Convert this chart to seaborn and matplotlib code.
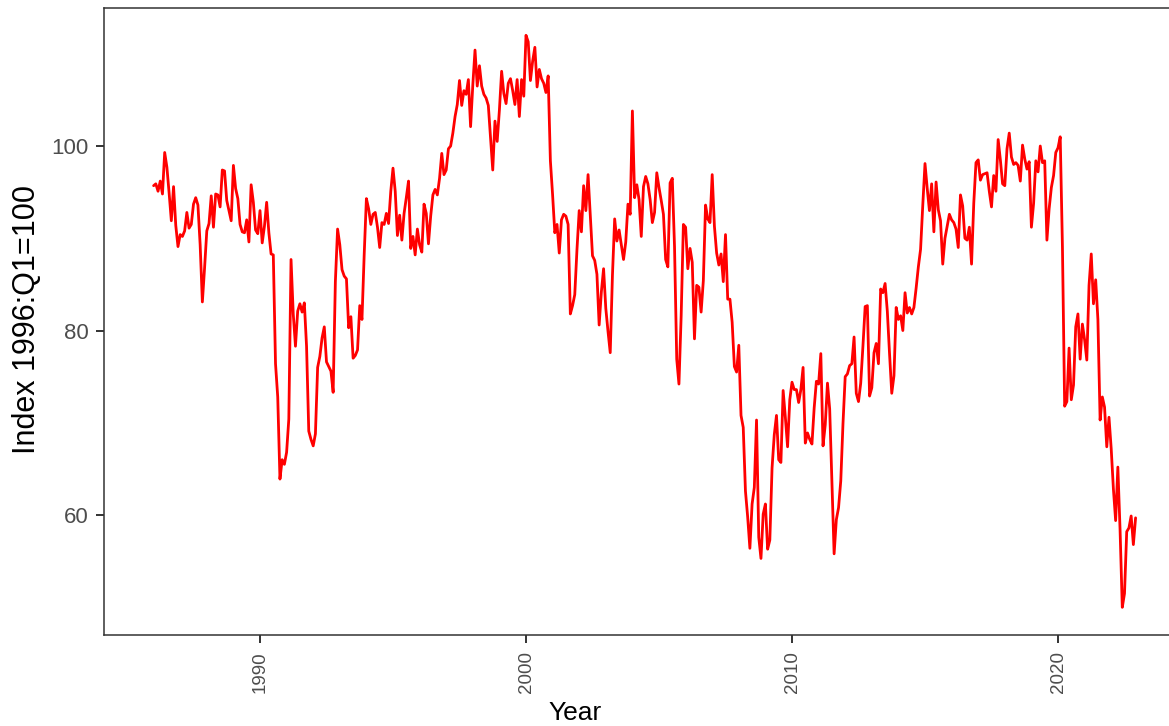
import numpy as np
import pandas as pd
import matplotlib
matplotlib.use("Agg")
import matplotlib.pyplot as plt
import seaborn as sns

# monthly index values, Jan 1986 - Dec 2022
vals_1986_1990 = [
    95.7, 95.9, 95.1, 96.2, 94.8, 99.3, 97.7, 94.9, 91.9, 95.6, 91.4, 89.1,
    90.4, 90.2, 90.8, 92.8, 91.1, 91.5, 93.7, 94.4, 93.6, 89.3, 83.1, 86.8,
    90.8, 91.6, 94.6, 91.2, 94.8, 94.7, 93.4, 97.4, 97.3, 94.1, 93.0, 91.9,
    97.9, 95.4, 94.3, 91.5, 90.7, 90.6, 92.0, 89.6, 95.8, 93.9, 90.9, 90.5,
    93.0, 89.5, 91.3, 93.9, 90.6, 88.3, 88.2, 76.4, 72.8, 63.9, 66.0, 65.5,
]
vals_1991_1995 = [
    66.8, 70.4, 87.7, 81.8, 78.3, 82.1, 82.9, 82.0, 83.0, 78.3, 69.1, 68.2,
    67.5, 68.8, 76.0, 77.2, 79.2, 80.4, 76.6, 76.1, 75.6, 73.3, 85.3, 91.0,
    89.3, 86.6, 85.9, 85.6, 80.3, 81.5, 77.0, 77.3, 77.9, 82.7, 81.2, 88.2,
    94.3, 93.2, 91.5, 92.6, 92.8, 91.2, 89.0, 91.7, 91.5, 92.7, 91.6, 95.1,
    97.6, 95.1, 90.3, 92.5, 89.8, 92.7, 94.4, 96.2, 88.9, 90.2, 88.2, 91.0,
]
vals_1996_2000 = [
    89.3, 88.5, 93.7, 92.7, 89.4, 92.4, 94.7, 95.3, 94.7, 96.5, 99.2, 96.9,
    97.4, 99.7, 100.0, 101.4, 103.2, 104.5, 107.1, 104.4, 106.0, 105.6, 107.2, 102.1,
    106.6, 110.4, 106.5, 108.7, 106.5, 105.6, 105.2, 104.4, 100.9, 97.4, 102.7, 100.5,
    103.9, 108.1, 105.7, 104.6, 106.8, 107.3, 106.0, 104.5, 107.2, 103.2, 107.2, 105.4,
    112.0, 111.3, 107.1, 109.2, 110.7, 106.4, 108.3, 107.3, 106.8, 105.8, 107.6, 98.4,
]
vals_2001_2005 = [
    94.7, 90.6, 91.5, 88.4, 92.0, 92.6, 92.4, 91.5, 81.8, 82.7, 83.9, 88.8,
    93.0, 90.7, 95.7, 93.0, 96.9, 92.4, 88.1, 87.6, 86.1, 80.6, 84.2, 86.7,
    82.4, 79.9, 77.6, 86.0, 92.1, 89.7, 90.9, 89.3, 87.7, 89.6, 93.7, 92.6,
    103.8, 94.4, 95.8, 94.2, 90.2, 95.6, 96.7, 95.9, 94.2, 91.7, 92.8, 97.1,
    95.5, 94.1, 92.6, 87.7, 86.9, 96.0, 96.5, 89.1, 76.9, 74.2, 81.6, 91.5,
]
vals_2006_2010 = [
    91.2, 86.7, 88.9, 87.4, 79.1, 84.9, 84.7, 82.0, 85.4, 93.6, 92.1, 91.7,
    96.9, 91.3, 88.4, 87.1, 88.3, 85.3, 90.4, 83.4, 83.4, 80.9, 76.1, 75.5,
    78.4, 70.8, 69.5, 62.6, 59.8, 56.4, 61.2, 63.0, 70.3, 57.6, 55.3, 60.1,
    61.2, 56.3, 57.3, 65.1, 68.7, 70.8, 66.0, 65.7, 73.5, 70.6, 67.4, 72.5,
    74.4, 73.6, 73.6, 72.2, 73.6, 76.0, 67.8, 68.9, 68.2, 67.7, 71.6, 74.5,
]
vals_2011_2015 = [
    74.2, 77.5, 67.5, 69.8, 74.3, 71.5, 63.7, 55.8, 59.5, 60.8, 63.7, 69.9,
    75.0, 75.3, 76.2, 76.4, 79.3, 73.2, 72.3, 74.3, 78.3, 82.6, 82.7, 72.9,
    73.8, 77.6, 78.6, 76.4, 84.5, 84.1, 85.1, 82.1, 77.5, 73.2, 75.1, 82.5,
    81.2, 81.6, 80.0, 84.1, 81.9, 82.5, 81.8, 82.5, 84.6, 86.9, 88.8, 93.6,
    98.1, 95.4, 93.0, 95.9, 90.7, 96.1, 93.1, 91.9, 87.2, 90.0, 91.3, 92.6,
]
vals_2016_2020 = [
    92.0, 91.7, 91.0, 89.0, 94.7, 93.5, 90.0, 89.8, 91.2, 87.2, 93.8, 98.2,
    98.5, 96.3, 96.9, 97.0, 97.1, 95.1, 93.4, 96.8, 95.1, 100.7, 98.5, 95.9,
    95.7, 99.7, 101.4, 98.8, 98.0, 98.2, 97.9, 96.2, 100.1, 98.6, 97.5, 98.3,
    91.2, 93.8, 98.4, 97.2, 100.0, 98.2, 98.4, 89.8, 93.2, 95.5, 96.8, 99.3,
    99.8, 101.0, 89.1, 71.8, 72.3, 78.1, 72.5, 74.1, 80.4, 81.8, 76.9, 80.7,
]
vals_2021_2022 = [
    79.0, 76.8, 84.9, 88.3, 82.9, 85.5, 81.2, 70.3, 72.8, 71.7, 67.4, 70.6,
    67.2, 62.8, 59.4, 65.2, 58.4, 50.0, 51.5, 58.2, 58.6, 59.9, 56.8, 59.7,
]
x_ticks = [1990, 2000, 2010, 2020]
y_ticks = [60, 80, 100]

values = (vals_1986_1990 + vals_1991_1995 + vals_1996_2000 + vals_2001_2005
          + vals_2006_2010 + vals_2011_2015 + vals_2016_2020 + vals_2021_2022)
dates = pd.date_range("1986-01-01", periods=len(values), freq="MS")
df = pd.DataFrame({"year": dates.year + (dates.month - 1) / 12, "index": values})

sns.set_theme(style="white")
plt.rcParams["font.family"] = ["Liberation Sans", "DejaVu Sans"]

W, H = 1169, 726
fig = plt.figure(figsize=(W / 100, H / 100), dpi=100)
ax = fig.add_axes([104 / W, 1 - 635 / H, (1190 - 104) / W, 627 / H])

sns.lineplot(data=df, x="year", y="index", color="#FF0000", linewidth=2.0, ax=ax)

ax.set_xlim(1990 - (260 - 104) / 26.6, 1990 + (1190 - 260) / 26.6)
ax.set_ylim(47.0, 114.96)
ax.set_xticks(x_ticks)
ax.set_xticklabels([str(t) for t in x_ticks], rotation=90)
ax.set_yticks(y_ticks)

for s in ax.spines.values():
    s.set_color("#333333")
    s.set_linewidth(1.1)

ax.tick_params(axis="both", which="major", color="#333333", width=1.4, length=5.5,
               colors="#4D4D4D", bottom=True, left=True)
ax.tick_params(axis="y", labelsize=16, pad=5.5)
ax.tick_params(axis="x", labelsize=13.5, pad=6)
for t in ax.get_xticklabels() + ax.get_yticklabels():
    t.set_color("#4D4D4D")

ax.set_xlabel("Year", fontsize=19, color="black")
ax.set_ylabel("Index 1996:Q1=100", fontsize=22, color="black")
ax.xaxis.set_label_coords((575 - 104) / (1190 - 104), -(701 - 635) / 627)
ax.yaxis.set_label_coords(-(104 - 42) / (1190 - 104), (635 - 319) / 627)

fig.savefig("out.png", dpi=100)
